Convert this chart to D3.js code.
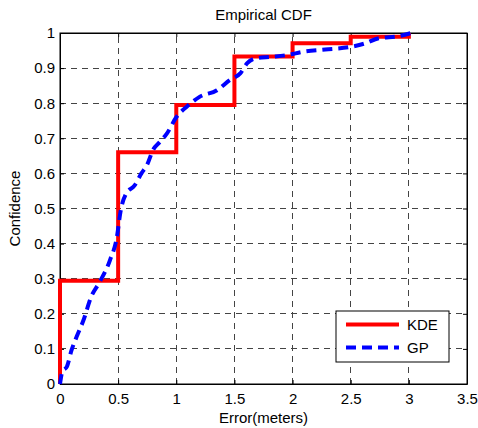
<!DOCTYPE html>
<html>
<head>
<meta charset="utf-8">
<style>
  body { margin: 0; background: #fff; }
  text { font-family: "Liberation Sans", Arial, sans-serif; }
</style>
</head>
<body>
<svg width="478" height="428"></svg>
<script src="https://cdn.jsdelivr.net/npm/d3@7"></script>
<script>

// KDE empirical CDF (step function): x positions and levels
var kdeX = [0, 0, 0.5, 0.5, 1, 1, 1.5, 1.5, 2, 2, 2.5, 2.5, 3, 3];
var kdeY = [0, 0.294, 0.294, 0.66, 0.66, 0.795, 0.795, 0.933, 0.933, 0.971, 0.971, 0.989, 0.989, 1];

// GP CDF curve
var gpX = [0, 0.02, 0.06, 0.1, 0.15, 0.2, 0.27, 0.34, 0.43, 0.49, 0.52, 0.57, 0.64, 0.7, 0.75, 0.8, 0.86, 0.92, 1.0, 1.09, 1.2, 1.35, 1.46, 1.55, 1.61, 1.69, 1.81, 1.95, 2.1, 2.28, 2.51, 2.62, 2.74, 2.91, 3.02];
var gpY = [0, 0.035, 0.05, 0.097, 0.14, 0.18, 0.25, 0.29, 0.353, 0.42, 0.49, 0.543, 0.565, 0.6, 0.625, 0.667, 0.69, 0.714, 0.76, 0.79, 0.818, 0.837, 0.866, 0.885, 0.914, 0.928, 0.932, 0.937, 0.947, 0.953, 0.961, 0.97, 0.985, 0.991, 1.0];

var xTicks = [0, 0.5, 1, 1.5, 2, 2.5, 3, 3.5];
var yTicks = [0, 0.1, 0.2, 0.3, 0.4, 0.5, 0.6, 0.7, 0.8, 0.9, 1];
var seriesNames = ["KDE", "GP"];

var svg = d3.select("svg"),
    pL = 60, pR = 467, pT = 33, pB = 384,
    fs = 15;

var x = d3.scaleLinear().domain([0, 3.5]).range([pL, pR]);
var y = d3.scaleLinear().domain([0, 1]).range([pB, pT]);

// grid
var grid = svg.append("g").attr("stroke", "#444").attr("stroke-width", 1)
    .attr("stroke-dasharray", "6,5").attr("shape-rendering", "crispEdges");
grid.selectAll(".gx").data(xTicks.slice(1, -1)).enter().append("line")
    .attr("x1", d => x(d)).attr("x2", d => x(d)).attr("y1", pB).attr("y2", pT);
grid.selectAll(".gy").data(yTicks.slice(1, -1)).enter().append("line")
    .attr("y1", d => y(d)).attr("y2", d => y(d)).attr("x1", pL).attr("x2", pR);

// axes (MATLAB style: inward ticks on all four sides)
var fmt = d => String(d);
svg.append("g").attr("transform", "translate(0," + pB + ")")
    .call(d3.axisBottom(x).tickValues(xTicks).tickFormat(fmt).tickSizeInner(-4).tickSizeOuter(0).tickPadding(9));
svg.append("g").attr("transform", "translate(0," + pT + ")")
    .call(d3.axisTop(x).tickValues(xTicks).tickFormat("").tickSizeInner(-4).tickSizeOuter(0));
svg.append("g").attr("transform", "translate(" + pL + ",0)")
    .call(d3.axisLeft(y).tickValues(yTicks).tickFormat(fmt).tickSizeInner(-4).tickSizeOuter(0).tickPadding(5));
svg.append("g").attr("transform", "translate(" + pR + ",0)")
    .call(d3.axisRight(y).tickValues(yTicks).tickFormat("").tickSizeInner(-4).tickSizeOuter(0));
svg.selectAll(".tick text").attr("font-size", fs).attr("fill", "#000")
    .attr("font-family", '"Liberation Sans", Arial, sans-serif');
svg.selectAll(".domain, .tick line").attr("stroke", "#000");

svg.append("rect").attr("x", pL).attr("y", pT).attr("width", pR - pL).attr("height", pB - pT)
    .attr("fill", "none").attr("stroke", "#000").attr("stroke-width", 1);

// lines
var line = d3.line().x(d => x(d[0])).y(d => y(d[1]));
svg.append("path").datum(d3.zip(kdeX, kdeY)).attr("d", line)
    .attr("fill", "none").attr("stroke", "#ff0000").attr("stroke-width", 4);
svg.append("path").datum(d3.zip(gpX, gpY)).attr("d", line.curve(d3.curveMonotoneX))
    .attr("fill", "none").attr("stroke", "#0000ff").attr("stroke-width", 4)
    .attr("stroke-dasharray", "10,6");

// title and labels
svg.append("text").attr("x", (pL + pR) / 2).attr("y", 20).attr("text-anchor", "middle")
    .attr("font-size", fs).text("Empirical CDF");
svg.append("text").attr("x", (pL + pR) / 2).attr("y", 423).attr("text-anchor", "middle")
    .attr("font-size", fs).text("Error(meters)");
svg.append("text").attr("transform", "translate(20," + (pT + pB) / 2 + ") rotate(-90)")
    .attr("text-anchor", "middle").attr("font-size", fs).text("Confidence");

// legend
var lg = svg.append("g");
lg.append("rect").attr("x", 336).attr("y", 311).attr("width", 113).attr("height", 51)
    .attr("fill", "#fff").attr("stroke", "#000");
var styles = [{c: "#ff0000", d: null}, {c: "#0000ff", d: "10,6"}];
seriesNames.forEach(function(name, i) {
  var yy = 324.5 + i * 23;
  lg.append("line").attr("x1", 346).attr("x2", 399).attr("y1", yy).attr("y2", yy)
    .attr("stroke", styles[i].c).attr("stroke-width", 4).attr("stroke-dasharray", styles[i].d);
  lg.append("text").attr("x", 407).attr("y", yy + 5.5).attr("font-size", fs).text(name);
});
</script>
</body>
</html>
